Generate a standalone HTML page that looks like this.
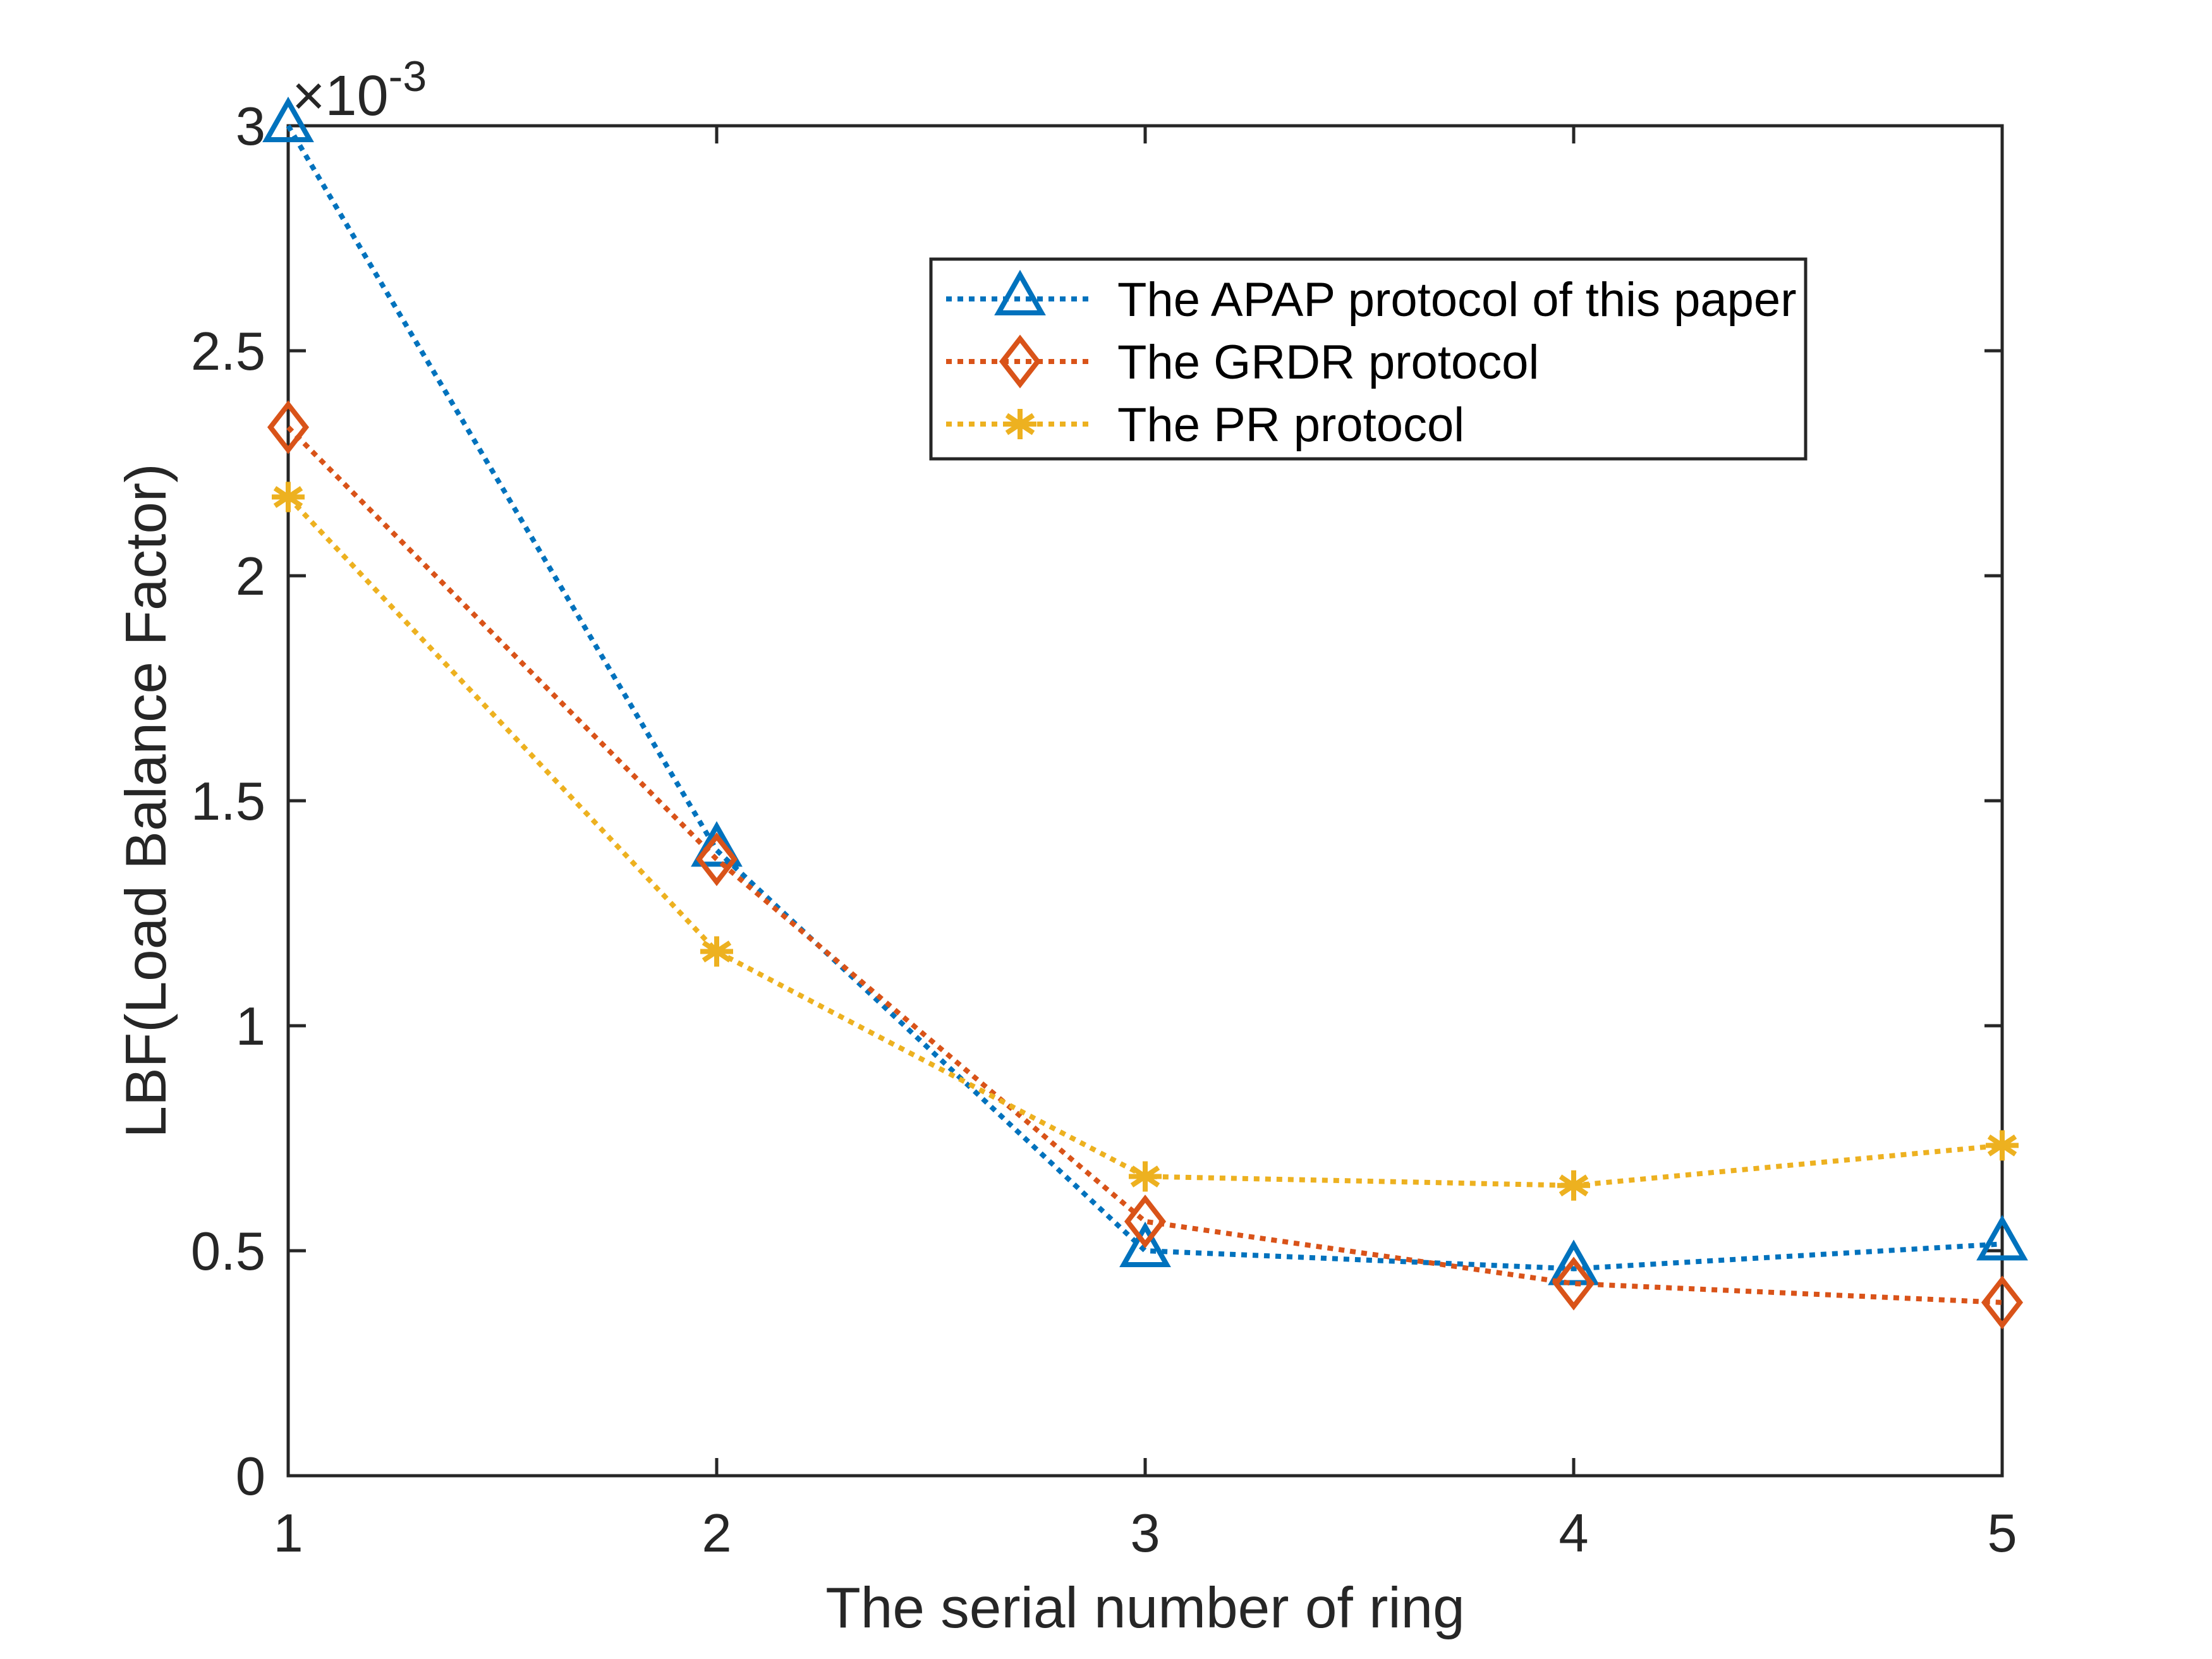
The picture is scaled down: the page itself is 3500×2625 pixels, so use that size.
<!DOCTYPE html>
<html><head><meta charset="utf-8"><style>
html,body{margin:0;padding:0;background:#fff;}
svg{display:block;font-family:"Liberation Sans",Arial,sans-serif;}
</style></head><body>
<svg id="chart" width="3500" height="2625" viewBox="0 0 3500 2625" xmlns="http://www.w3.org/2000/svg">
<rect width="3500" height="2625" fill="#fff"/>
<g id="plot"></g>
</svg>
<script>
const categories = [1, 2, 3, 4, 5];
const apapValues = [3.0, 1.39, 0.50, 0.46, 0.515];
const grdrValues = [2.33, 1.37, 0.565, 0.427, 0.385];
const prValues = [2.175, 1.165, 0.665, 0.645, 0.734];
const yTicks = [0, 0.5, 1, 1.5, 2, 2.5, 3];
const yTickLabels = ["0", "0.5", "1", "1.5", "2", "2.5", "3"];
const xTickLabels = ["1", "2", "3", "4", "5"];

const L = 456, R = 3168, T = 199, B = 2335;
const NS = "http://www.w3.org/2000/svg";
const g = document.getElementById('plot');
function xS(v){ return L + (v - 1) / 4 * (R - L); }
function yS(v){ return B - v / 3 * (B - T); }
function mk(tag, attrs, parent){
  const e = document.createElementNS(NS, tag);
  for (const k in attrs) e.setAttribute(k, attrs[k]);
  (parent || g).appendChild(e);
  return e;
}

const box = mk('rect', {x:L, y:T, width:R-L, height:B-T, fill:'none', stroke:'#262626', 'stroke-width':5});



yTicks.forEach((v, i) => {
  const y = yS(v);
  const t1 = mk('line', {x1:L, x2:L+28, y1:y, y2:y, stroke:'#262626', 'stroke-width':5});
  
  
  const t2 = mk('line', {x1:R, x2:R-28, y1:y, y2:y, stroke:'#262626', 'stroke-width':5});
  
  
  const tx = mk('text', {x:L-36, y:y+30, 'font-size':85, 'text-anchor':'end', fill:'#262626'});
  tx.textContent = yTickLabels[i];
  
  
});
categories.forEach((c, i) => {
  const x = xS(c);
  const t1 = mk('line', {x1:x, x2:x, y1:B, y2:B-28, stroke:'#262626', 'stroke-width':5});
  
  
  const t2 = mk('line', {x1:x, x2:x, y1:T, y2:T+28, stroke:'#262626', 'stroke-width':5});
  
  
  const tx = mk('text', {x:x, y:B+120, 'font-size':85, 'text-anchor':'middle', fill:'#262626'});
  tx.textContent = xTickLabels[i];
  
  
});

const ex = mk('text', {x:462, y:182, 'font-size':90, fill:'#262626'});
ex.innerHTML = '×10<tspan dy="-38" font-size="68">-3</tspan>';



const xt = mk('text', {x:(L+R)/2, y:2575, 'font-size':91, 'text-anchor':'middle', fill:'#262626'});
xt.textContent = 'The serial number of ring';


const yt = mk('text', {x:0, y:0, 'font-size':91, 'text-anchor':'middle', fill:'#262626', transform:'translate(262,1267) rotate(-90)'});
yt.textContent = 'LBF(Load Balance Factor)';



function marker(type, x, y, color, parent){
  let e;
  if (type === 'tri') {
    e = mk('polygon', {points:`${x},${y-38} ${x+34},${y+22} ${x-34},${y+22}`, fill:'none', stroke:color, 'stroke-width':8}, parent);
  } else if (type === 'dia') {
    e = mk('polygon', {points:`${x},${y-36} ${x+28},${y} ${x},${y+36} ${x-28},${y}`, fill:'none', stroke:color, 'stroke-width':8}, parent);
  } else {
    e = mk('g', {}, parent);
    [[0,-24,0,24],[-26,0,26,0],[-21,-14,21,14],[-21,14,21,-14]].forEach(s => {
      mk('line', {x1:x+s[0], y1:y+s[1], x2:x+s[2], y2:y+s[3], stroke:color, 'stroke-width':8}, e);
    });
  }
  return e;
}

const series = [
  {name:'apap', vals:apapValues, color:'#0072BD', m:'tri', label:'The APAP protocol of this paper'},
  {name:'grdr', vals:grdrValues, color:'#D95319', m:'dia', label:'The GRDR protocol'},
  {name:'pr', vals:prValues, color:'#EDB120', m:'star', label:'The PR protocol'}
];
series.forEach(s => {
  const pts = s.vals.map((v, i) => xS(categories[i]) + ',' + yS(v)).join(' ');
  const pl = mk('polyline', {points:pts, fill:'none', stroke:s.color, 'stroke-width':8, 'stroke-dasharray':'9 9'});
  
  
  s.vals.forEach((v, i) => {
    const m = marker(s.m, xS(categories[i]), yS(v), s.color);
    
    
  });
});

const lg = mk('g', {});


mk('rect', {x:1473, y:410, width:1384, height:316, fill:'#fff', stroke:'#262626', 'stroke-width':5}, lg);
const ly = [473, 572, 671];
series.forEach((s, i) => {
  const ent = mk('g', {}, lg);
  
  
  mk('line', {x1:1497, x2:1730, y1:ly[i], y2:ly[i], stroke:s.color, 'stroke-width':8, 'stroke-dasharray':'9 9'}, ent);
  marker(s.m, 1614, ly[i], s.color, ent);
  const t = mk('text', {x:1768, y:ly[i]+27, 'font-size':76, fill:'#000'}, ent);
  t.textContent = s.label;
});
</script>
</body></html>
